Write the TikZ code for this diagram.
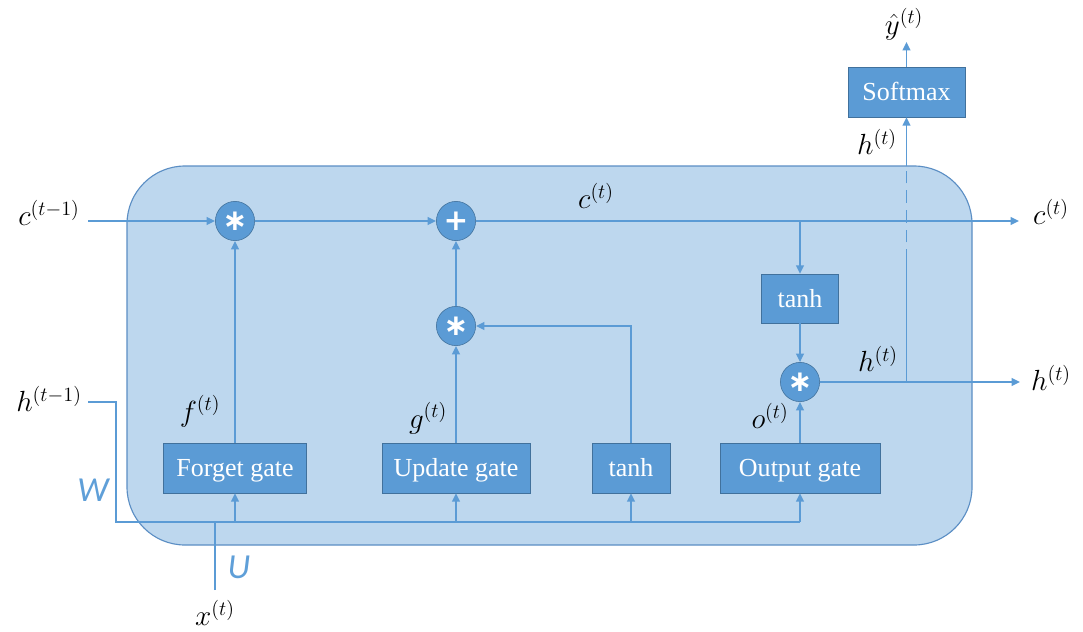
\documentclass[tikz,border=0pt]{standalone}
\usepackage{fontspec}
\setmainfont{Liberation Serif}
\newfontfamily\calfont{Carlito}
\newfontfamily\symfont{DejaVu Sans}
\usetikzlibrary{arrows.meta,positioning}
\definecolor{cellfill}{HTML}{BDD7EE}
\definecolor{cellline}{HTML}{5B8EC4}
\definecolor{wire}{HTML}{5B9BD5}
\definecolor{gatefill}{HTML}{5B9BD5}
\definecolor{gateline}{HTML}{41719C}
\definecolor{wtext}{HTML}{5F9FD8}

\begin{document}
\begin{tikzpicture}[x=0.025cm,y=-0.025cm,>={Triangle[length=6pt,width=5.5pt]},
 wire/.style={draw=wire,line width=1.25pt},
 gatebox/.style={draw=gateline,fill=gatefill,text=white,minimum height=1.25cm,inner sep=0pt,text height=14pt,text depth=1.8pt,font=\fontsize{18.5}{20}\selectfont},
 opcirc/.style={circle,draw=gateline,fill=gatefill,text=white,minimum size=0.98cm,inner sep=0pt,font=\symfont\bfseries\fontsize{21}{21}\selectfont},
 lbl/.style={font=\fontsize{22}{26}\selectfont},
 wlbl/.style={text=wtext,font=\calfont\itshape\fontsize{25}{25}\selectfont}]
\useasboundingbox (0,0) rectangle (1083,631);
% the cell
\filldraw[fill=cellfill,draw=cellline,line width=0.8pt,rounded corners=1.45cm] (127,166) rectangle (972,545);
% boxes
\node[gatebox,minimum width=3.575cm] (forget) at (235,468) {Forget gate};
\node[gatebox,minimum width=3.7cm] (update) at (456,468) {Update gate};
\node[gatebox,minimum width=1.94cm] (tanhg) at (631,468) {tanh};
\node[gatebox,minimum width=4.0cm] (output) at (800,468) {Output gate};
\node[gatebox,minimum width=1.925cm,minimum height=1.225cm] (tanhc) at (800,298.5) {tanh};
\node[gatebox,minimum width=2.925cm] (softmax) at (906.5,92) {Softmax};
% operations
\node[opcirc] (fmul) at (235,221) {∗};
\node[opcirc] (plus) at (456,221) {+};
\node[opcirc] (umul) at (456,326) {∗};
\node[opcirc] (omul) at (800,382) {∗};
% free ends
\coordinate (cin) at (88,221);
\coordinate (cout) at (1019,221);
\coordinate (csplit) at (800,221);
\coordinate (hout) at (1020,382);
\coordinate (hsplit) at (906.5,382);
\coordinate (hdash) at (906.5,262);
\coordinate (htop) at (906.5,166);
\coordinate (yout) at (906.5,42);
\coordinate (hin) at (88,402);
\coordinate (bendb) at (116,522);
\coordinate (busend) at (800,522);
\coordinate (xin) at (215,590);
% cell state
\draw[wire,->] (cin) -- (fmul);
\draw[wire,->] (fmul) -- (plus);
\draw[wire,->] (plus) -- (cout);
\draw[wire,->] (csplit) -- (tanhc);
\draw[wire,->] (tanhc) -- (omul);
% hidden state
\draw[wire,->] (omul) -- (hout);
\draw[wire] (hsplit) -- (hdash);
\draw[wire,dash pattern=on 9pt off 5pt] (hdash) -- (htop);
\draw[wire,->] (htop) -- (softmax);
\draw[wire,->] (softmax) -- (yout);
% gates
\draw[wire,->] (forget) -- (fmul);
\draw[wire,->] (update) -- (umul);
\draw[wire,->] (umul) -- (plus);
\draw[wire,->] (tanhg.north) |- (umul);
\draw[wire,->] (output) -- (omul);
% inputs
\draw[wire] (hin) -| (bendb) -- (busend);
\draw[wire] (xin) -- (xin |- busend);
\draw[wire,->] (forget.south |- busend) -- (forget);
\draw[wire,->] (update.south |- busend) -- (update);
\draw[wire,->] (tanhg.south |- busend) -- (tanhg);
\draw[wire,->] (busend) -- (output);
% labels
\node[lbl] (lcprev) at (49,213) {$c^{(t-1)}$};
\node[lbl] (lct) at (596,196) {$c^{(t)}$};
\node[lbl] (lcout) at (1051,212) {$c^{(t)}$};
\node[lbl] (lhprev) at (49,399) {$h^{(t-1)}$};
\node[lbl] (lhmid) at (878,359) {$h^{(t)}$};
\node[lbl] (lhout) at (1051,378) {$h^{(t)}$};
\node[lbl] (lhup) at (877,142) {$h^{(t)}$};
\node[lbl] (lyhat) at (904,24) {$\hat{y}^{(t)}$};
\node[lbl] (lf) at (200,411) {$f^{(t)}$};
\node[lbl] (lg) at (428,418) {$g^{(t)}$};
\node[lbl] (lo) at (770,416) {$o^{(t)}$};
\node[lbl] (lx) at (215,613) {$x^{(t)}$};
\node[wlbl] (lw) at (93,490) {W};
\node[wlbl] (lu) at (239,567) {U};
\end{tikzpicture}
\end{document}
